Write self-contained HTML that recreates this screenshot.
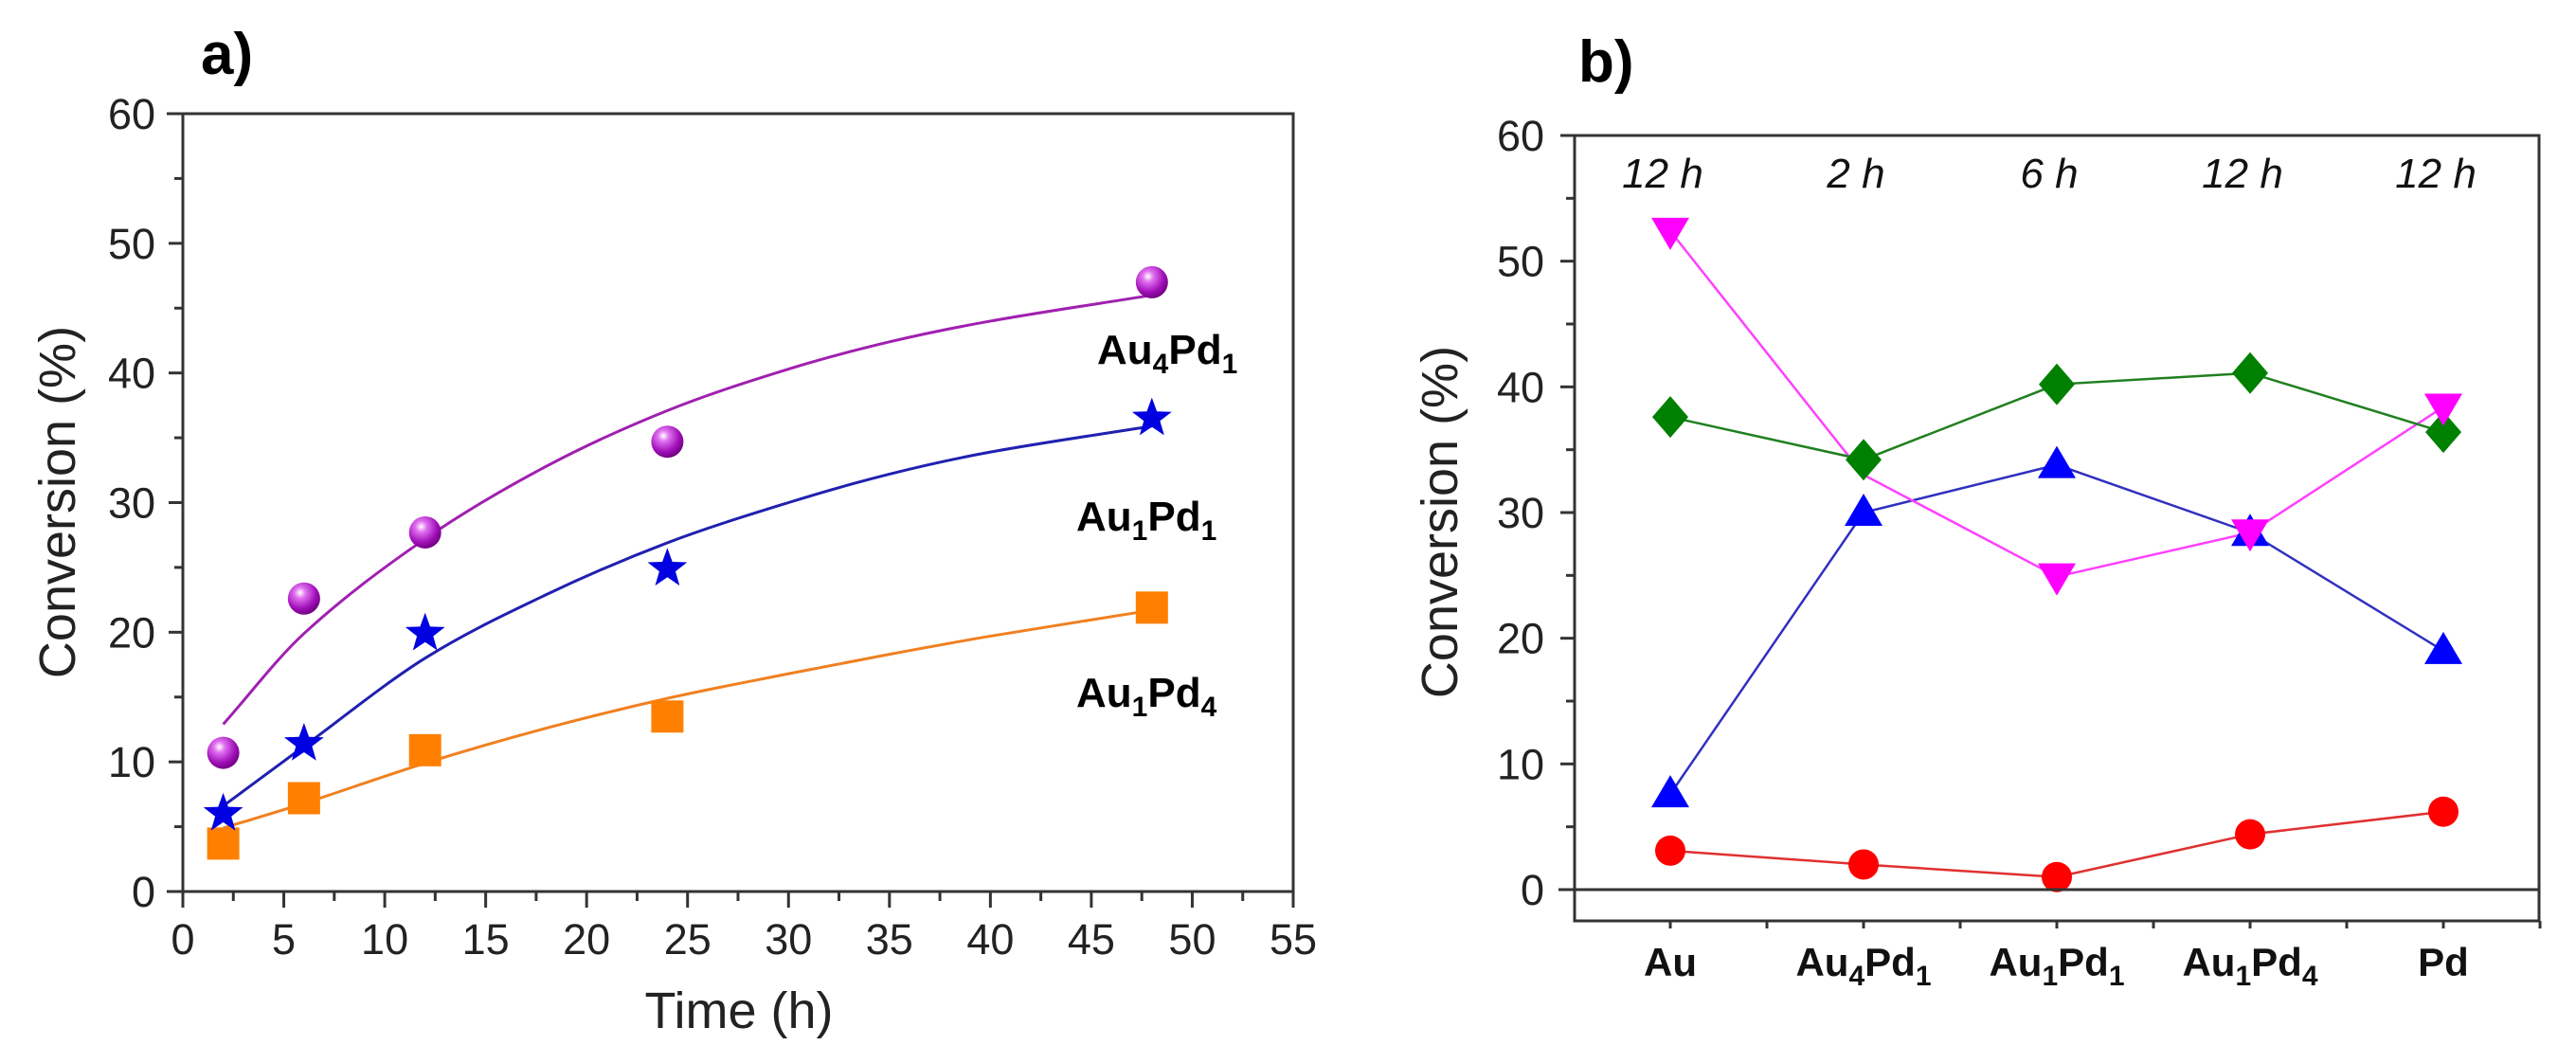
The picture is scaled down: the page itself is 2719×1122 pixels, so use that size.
<!DOCTYPE html>
<html><head><meta charset="utf-8">
<style>
html,body{margin:0;padding:0;background:#fff;}
svg{display:block;font-family:"Liberation Sans",sans-serif;}
</style></head>
<body>
<svg id="fig" width="2719" height="1122" viewBox="0 0 2719 1122" xmlns="http://www.w3.org/2000/svg">
<defs>
<radialGradient id="sph" cx="0.38" cy="0.32" r="0.7">
<stop offset="0" stop-color="#ffffff"/><stop offset="0.25" stop-color="#e070f0"/><stop offset="0.7" stop-color="#a010b8"/><stop offset="1" stop-color="#700080"/>
</radialGradient>
</defs>
<g id="chartA"></g>
<g id="chartB"></g>
</svg>
<script>
// ---------- Chart a data ----------
const aTimes = [2, 6, 12, 24, 48];
const aAu4Pd1 = [10.7, 22.6, 27.7, 34.7, 47.0];
const aAu1Pd1 = [6.0, 11.4, 19.9, 24.9, 36.5];
const aAu1Pd4 = [3.7, 7.2, 10.9, 13.5, 21.9];
const aFitTimes = [2, 6, 12, 18, 24, 30, 35, 40, 48];
const aFitAu4Pd1 = [12.9, 19.9, 27.2, 32.8, 37.1, 40.3, 42.4, 44.0, 46.0];
const aFitAu1Pd1 = [6.6, 11.2, 18.0, 22.9, 26.9, 30.0, 32.2, 33.9, 35.9];
const aFitAu1Pd4 = [4.9, 6.8, 9.9, 12.6, 14.9, 16.8, 18.3, 19.7, 21.7];
const aXTicks = [0,5,10,15,20,25,30,35,40,45,50,55];
const aYTicks = [0,10,20,30,40,50,60];
// ---------- Chart b data ----------
const bCategories = ["Au","Au4Pd1","Au1Pd1","Au1Pd4","Pd"];
const bTimes = ["12 h","2 h","6 h","12 h","12 h"];
const bRed = [3.1, 2.0, 1.0, 4.4, 6.2];
const bBlue = [7.6, 30.0, 33.8, 28.4, 19.0];
const bMagenta = [52.4, 33.0, 24.9, 28.4, 38.4];
const bGreen = [37.6, 34.2, 40.2, 41.1, 36.4];
const bYTicks = [0,10,20,30,40,50,60];

const NS = "http://www.w3.org/2000/svg";
function mk(parent, tag, attrs){const e=document.createElementNS(NS,tag);for(const k in attrs)e.setAttribute(k,attrs[k]);parent.appendChild(e);return e;}

// ---------- Chart a ----------
const A = document.getElementById('chartA');
const ax = v => 193 + v*(1365-193)/55;
const ay = v => 941 - v*(941-120)/60;
function smooth(xs, ys, X, Y){
  const n=xs.length, m=[];
  for(let i=0;i<n;i++){
    const a=Math.max(0,i-1), b=Math.min(n-1,i+1);
    m.push((ys[b]-ys[a])/(xs[b]-xs[a]));
  }
  let d = `M${X(xs[0])},${Y(ys[0])}`;
  for(let i=0;i<n-1;i++){
    const h=xs[i+1]-xs[i];
    const c1x=xs[i]+h/3, c1y=ys[i]+m[i]*h/3;
    const c2x=xs[i+1]-h/3, c2y=ys[i+1]-m[i+1]*h/3;
    d+=` C${X(c1x)},${Y(c1y)} ${X(c2x)},${Y(c2y)} ${X(xs[i+1])},${Y(ys[i+1])}`;
  }
  return d;
}
let e;
e = mk(A,'path',{d:smooth(aFitTimes,aFitAu4Pd1,ax,ay),fill:'none',stroke:'#a020b0','stroke-width':3});


e = mk(A,'path',{d:smooth(aFitTimes,aFitAu1Pd1,ax,ay),fill:'none',stroke:'#2020b0','stroke-width':3});


e = mk(A,'path',{d:smooth(aFitTimes,aFitAu1Pd4,ax,ay),fill:'none',stroke:'#f08020','stroke-width':3});


aTimes.forEach((t,i)=>{
  let m = mk(A,'rect',{x:ax(t)-17,y:ay(aAu1Pd4[i])-17,width:34,height:34,fill:'#ff8000'});
  
  
  const cx=ax(t), cy=ay(aAu1Pd1[i]); let pts=[];
  for(let k=0;k<10;k++){const r=k%2?9:22;const an=-Math.PI/2+k*Math.PI/5;pts.push((cx+r*Math.cos(an)).toFixed(1)+','+(cy+r*Math.sin(an)).toFixed(1));}
  m = mk(A,'polygon',{points:pts.join(' '),fill:'#0000e0'});
  
  
  m = mk(A,'circle',{cx:ax(t),cy:ay(aAu4Pd1[i]),r:17,fill:'url(#sph)'});
  
  
});
// axes a
mk(A,'rect',{x:193,y:120,width:1172,height:821,fill:'none',stroke:'#333','stroke-width':3});
mk(A,'line',{x1:176,y1:941,x2:193,y2:941,stroke:'#333','stroke-width':3});
mk(A,'line',{x1:176,y1:120,x2:193,y2:120,stroke:'#333','stroke-width':3});
aYTicks.forEach(v=>{
  mk(A,'line',{x1:178,y1:ay(v),x2:193,y2:ay(v),stroke:'#333','stroke-width':3});
  if(v<60) mk(A,'line',{x1:184,y1:ay(v+5),x2:193,y2:ay(v+5),stroke:'#333','stroke-width':3});
  const t = mk(A,'text',{x:164,y:ay(v)+16,'text-anchor':'end','font-size':45,fill:'#222'}); t.textContent=v;
  
  
});
aXTicks.forEach(v=>{
  mk(A,'line',{x1:ax(v),y1:941,x2:ax(v),y2:958,stroke:'#333','stroke-width':3});
  if(v<55) mk(A,'line',{x1:ax(v+2.5),y1:941,x2:ax(v+2.5),y2:951,stroke:'#333','stroke-width':3});
  const t = mk(A,'text',{x:ax(v),y:1007,'text-anchor':'middle','font-size':45,fill:'#222'}); t.textContent=v;
  
  
});
// ---------- Chart b ----------
const B = document.getElementById('chartB');
const bx = i => 1763 + i*204;
const by = v => 939 - v*(939-143)/60;
function line(vals,col,name){
  const l = mk(B,'polyline',{points:vals.map((v,i)=>bx(i)+','+by(v)).join(' '),fill:'none',stroke:col,'stroke-width':2.5});
  
  
}
line(bRed,'#e03030','line-red');
line(bBlue,'#3030c0','line-blue');
line(bMagenta,'#ff40ff','line-magenta');
line(bGreen,'#208020','line-green');
bCategories.forEach((c,i)=>{
  const x=bx(i);
  let m = mk(B,'circle',{cx:x,cy:by(bRed[i]),r:16,fill:'#ff0000'});
  
  
  let y=by(bGreen[i]);
  m = mk(B,'polygon',{points:`${x},${y-22} ${x+19},${y} ${x},${y+22} ${x-19},${y}`,fill:'#008000'});
  
  
  y=by(bBlue[i]);
  m = mk(B,'polygon',{points:`${x},${y-20} ${x+20},${y+14} ${x-20},${y+14}`,fill:'#0000ff'});
  
  
  if(i!==1){
    y=by(bMagenta[i]);
    m = mk(B,'polygon',{points:`${x-20},${y-14} ${x+20},${y-14} ${x},${y+20}`,fill:'#ff00ff'});
    
    
  }
});
// axes b
mk(B,'rect',{x:1662,y:143,width:1018,height:829,fill:'none',stroke:'#333','stroke-width':3});
mk(B,'line',{x1:1645,y1:939,x2:2680,y2:939,stroke:'#333','stroke-width':3});
bYTicks.forEach(v=>{
  mk(B,'line',{x1:1647,y1:by(v),x2:1662,y2:by(v),stroke:'#333','stroke-width':3});
  if(v<60) mk(B,'line',{x1:1653,y1:by(v+5),x2:1662,y2:by(v+5),stroke:'#333','stroke-width':3});
  const t = mk(B,'text',{x:1630,y:by(v)+16,'text-anchor':'end','font-size':45,fill:'#222'}); t.textContent=v;
  
  
});
bCategories.forEach((c,i)=>{
  mk(B,'line',{x1:bx(i),y1:972,x2:bx(i),y2:980,stroke:'#333','stroke-width':3});
  mk(B,'line',{x1:bx(i)+102,y1:972,x2:bx(i)+102,y2:980,stroke:'#333','stroke-width':3});
  const t = mk(B,'text',{x:bx(i),y:1030,'text-anchor':'middle','font-size':42,'font-weight':'bold',fill:'#111'});
  if(c.length>2){
    t.innerHTML = `Au<tspan font-size="30" dy="10">${c[2]}</tspan><tspan dy="-10">Pd</tspan><tspan font-size="30" dy="10">${c[5]}</tspan>`;
  } else t.textContent=c;
  
  
  const tt = mk(B,'text',{x:bx(i)-8,y:198,'text-anchor':'middle','font-size':44,'font-style':'italic',fill:'#111'}); tt.textContent=bTimes[i];
  
  
});
</script>
<div style="position:absolute;left:0;top:0;width:2719px;height:1122px;pointer-events:none;font-family:'Liberation Sans',sans-serif;">
<div style="position:absolute;left:212px;top:22px;font-size:62px;font-weight:bold;">a)</div>
<div style="position:absolute;left:1666px;top:30px;font-size:62px;font-weight:bold;">b)</div>
<div style="position:absolute;left:61px;top:530px;transform:translate(-50%,-50%) rotate(-90deg);font-size:54px;white-space:nowrap;color:#222;">Conversion (%)</div>
<div style="position:absolute;left:780px;top:1067px;transform:translate(-50%,-50%);font-size:54px;white-space:nowrap;color:#222;">Time (h)</div>
<div style="position:absolute;left:1520px;top:551px;transform:translate(-50%,-50%) rotate(-90deg);font-size:54px;white-space:nowrap;color:#222;">Conversion (%)</div>
<div style="position:absolute;left:1158px;top:345px;font-size:44px;font-weight:bold;">Au<sub style="font-size:30px">4</sub>Pd<sub style="font-size:30px">1</sub></div>
<div style="position:absolute;left:1136px;top:521px;font-size:44px;font-weight:bold;">Au<sub style="font-size:30px">1</sub>Pd<sub style="font-size:30px">1</sub></div>
<div style="position:absolute;left:1136px;top:707px;font-size:44px;font-weight:bold;">Au<sub style="font-size:30px">1</sub>Pd<sub style="font-size:30px">4</sub></div>
</div>
</body></html>
